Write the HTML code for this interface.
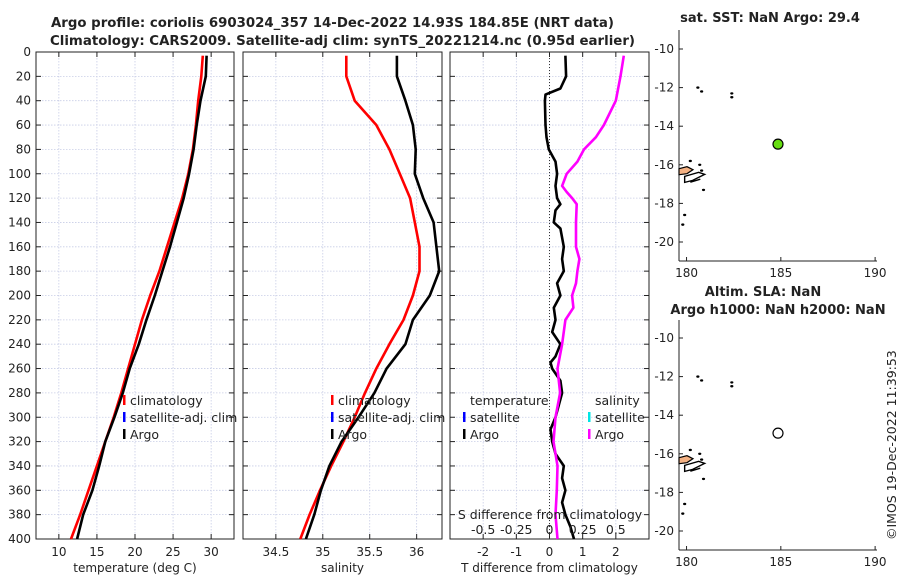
<!DOCTYPE html>
<html><head><meta charset="utf-8"><style>
html,body{margin:0;padding:0;background:#fff;}
svg{display:block;font-family:"DejaVu Sans","Liberation Sans",sans-serif;}
</style></head><body>
<svg id="fig" width="900" height="580" viewBox="0 0 900 580" xmlns="http://www.w3.org/2000/svg"></svg>
<script>
// ---- data ----
const depths = [3,20,40,60,80,100,120,140,160,180,200,220,240,260,280,300,320,340,360,380,400];
const tempClim = [28.9,28.7,28.3,28.0,27.6,27.0,26.2,25.2,24.2,23.2,22.0,20.9,20.0,19.1,18.2,17.2,16.1,15.0,13.9,12.8,11.6];
const tempArgo = [29.4,29.3,28.6,28.1,27.7,27.1,26.4,25.5,24.6,23.6,22.6,21.5,20.5,19.3,18.4,17.3,16.1,15.3,14.4,13.2,12.4];
const salClim = [35.25,35.25,35.34,35.57,35.71,35.82,35.93,35.98,36.03,36.03,35.96,35.86,35.71,35.57,35.45,35.34,35.22,35.09,34.97,34.86,34.76];
const salArgo = [35.79,35.79,35.88,35.96,35.99,35.98,36.07,36.18,36.21,36.24,36.14,35.96,35.88,35.68,35.55,35.38,35.2,35.07,34.98,34.91,34.82];
const diffDepths = [3,20,30,35,40,60,70,80,90,100,110,120,125,130,140,145,160,170,180,190,200,210,220,230,240,250,255,260,270,280,290,300,310,320,330,340,350,360,370,380,390,400];
const tDiff = [0.48,0.5,0.33,-0.12,-0.14,-0.12,-0.09,-0.02,0.18,0.23,0.18,0.23,0.33,0.18,0.13,0.33,0.43,0.38,0.43,0.23,0.33,0.13,0.18,0.08,0.33,0.18,0.03,0.08,0.33,0.38,0.28,0.18,0.03,0.08,0.18,0.43,0.38,0.48,0.38,0.48,0.63,0.74];
const sDiffDepths = [3,20,40,60,70,80,90,100,110,115,120,125,140,160,170,180,190,200,210,220,240,260,280,300,320,340,360,380,400];
const sDiff = [0.56,0.535,0.5,0.41,0.35,0.26,0.21,0.13,0.095,0.13,0.17,0.205,0.2,0.2,0.225,0.21,0.2,0.17,0.18,0.12,0.095,0.06,0.08,0.045,0.03,0.06,0.055,0.045,0.06];
const depthTicks = [0,20,40,60,80,100,120,140,160,180,200,220,240,260,280,300,320,340,360,380,400];
const tempTicks = [10,15,20,25,30];
const salTicks = [34.5,35,35.5,36];
const tdTicks = [-2,-1,0,1,2];
const sdTicks = [-0.5,-0.25,0,0.25,0.5];
const sdTickLabels = ["-0.5","-0.25","0","0.25","0.5"];
const lonTicks = [180,185,190];
const latTicks = [-10,-12,-14,-16,-18,-20];
const floatLon = [184.85];
const floatLat = [-14.93];

const NS="http://www.w3.org/2000/svg";
const svg=document.getElementById('fig');
function el(tag,attrs,parent){const e=document.createElementNS(NS,tag);for(const k in attrs)e.setAttribute(k,attrs[k]);(parent||svg).appendChild(e);return e;}
function txt(s,x,y,attrs,parent){const t=el('text',Object.assign({x:x,y:y,'font-size':12,fill:'#222'},attrs||{}),parent);t.textContent=s;return t;}

const Y0=52,Y1=539;
const yD=d=>Y0+(d/400)*(Y1-Y0);

function panel(name,x0,x1,xmin,xmax,ticks,labels,xlabel,showY){
  const g=el('g',{});
  
  
  const sx=v=>x0+(v-xmin)/(xmax-xmin)*(x1-x0);
  // grid
  depthTicks.forEach(d=>{ if(d>0&&d<400) el('line',{x1:x0,x2:x1,y1:yD(d),y2:yD(d),stroke:'#c8cde6','stroke-width':0.8,'stroke-dasharray':'1.5,1.5'},g);});
  ticks.forEach(v=>{el('line',{x1:sx(v),x2:sx(v),y1:Y0,y2:Y1,stroke:'#c8cde6','stroke-width':0.8,'stroke-dasharray':'1.5,1.5'},g);});
  // ticks
  depthTicks.forEach(d=>{el('line',{x1:x0,x2:x0+5,y1:yD(d),y2:yD(d),stroke:'#222'},g);el('line',{x1:x1-5,x2:x1,y1:yD(d),y2:yD(d),stroke:'#222'},g);
    if(showY){const t=txt(String(d),x0-5,yD(d)+4,{'text-anchor':'end'},g);}});
  ticks.forEach((v,i)=>{el('line',{x1:sx(v),x2:sx(v),y1:Y1,y2:Y1-5,stroke:'#222'},g);el('line',{x1:sx(v),x2:sx(v),y1:Y0,y2:Y0+5,stroke:'#222'},g);
    const t=txt(labels[i],sx(v),Y1+17,{'text-anchor':'middle'},g);});
  el('rect',{x:x0,y:Y0,width:x1-x0,height:Y1-Y0,fill:'none',stroke:'#222','stroke-width':1},g);
  const xl=txt(xlabel,(x0+x1)/2,Y1+33,{'text-anchor':'middle'},g);
  
  return {g,sx};
}
function line(g,sx,xs,ds,color,name){
  const p=el('polyline',{points:xs.map((v,i)=>sx(v).toFixed(1)+','+yD(ds[i]).toFixed(1)).join(' '),fill:'none',stroke:color,'stroke-width':2.6,'stroke-linejoin':'round'},g);
  
  
}
function legendEntry(g,x,y,color,label){
  el('rect',{x:x,y:y-10,width:2.5,height:10,fill:color},g);
  const t=txt(label,x+7,y,{'font-size':12.5},g);
  
  
}

// Temperature panel
const p1=panel('temperature-panel',36,234,7,33,tempTicks,tempTicks.map(String),'temperature (deg C)',true);
line(p1.g,p1.sx,tempClim,depths,'#ff0000','temperature-climatology-line');
line(p1.g,p1.sx,tempArgo,depths,'#000000','temperature-argo-line');
legendEntry(p1.g,123,405,'#ff0000','climatology');
legendEntry(p1.g,123,422,'#0000ff','satellite-adj. clim');
legendEntry(p1.g,123,439,'#000000','Argo');

// Salinity panel
const p2=panel('salinity-panel',243,442,34.15,36.27,salTicks,salTicks.map(String),'salinity',false);
line(p2.g,p2.sx,salClim,depths,'#ff0000','salinity-climatology-line');
line(p2.g,p2.sx,salArgo,depths,'#000000','salinity-argo-line');
legendEntry(p2.g,331,405,'#ff0000','climatology');
legendEntry(p2.g,331,422,'#0000ff','satellite-adj. clim');
legendEntry(p2.g,331,439,'#000000','Argo');

// Difference panel
const p3=panel('difference-panel',450,649,-3,3,tdTicks,tdTicks.map(String),'T difference from climatology',false);
el('line',{x1:p3.sx(0),x2:p3.sx(0),y1:Y0,y2:Y1,stroke:'#333','stroke-width':1,'stroke-dasharray':'1,2'},p3.g);
const sxS=v=>p3.sx(v*4);
line(p3.g,p3.sx,tDiff,diffDepths,'#000000','temperature-difference-line');
line(p3.g,sxS,sDiff,sDiffDepths,'#ff00ff','salinity-difference-line');
txt('temperature',470,405,{'font-size':12.5},p3.g);
txt('salinity',595,405,{'font-size':12.5},p3.g);
legendEntry(p3.g,463,422,'#0000ff','satellite');
legendEntry(p3.g,463,439,'#000000','Argo');
legendEntry(p3.g,588,422,'#00e5e5','satellite');
legendEntry(p3.g,588,439,'#ff00ff','Argo');
const sdl=txt('S difference from climatology',550,519,{'text-anchor':'middle','font-size':12.5},p3.g);

sdTicks.forEach((v,i)=>{const t=txt(sdTickLabels[i],sxS(v),534,{'text-anchor':'middle','font-size':12.5},p3.g);});

// Titles
const t1=txt('Argo profile: coriolis 6903024_357 14-Dec-2022 14.93S 184.85E (NRT data)',51,27,{'font-weight':'bold','font-size':13,textLength:563,lengthAdjust:'spacingAndGlyphs'});

const t2=txt('Climatology: CARS2009. Satellite-adj clim: synTS_20221214.nc (0.95d earlier)',50,45,{'font-weight':'bold','font-size':13,textLength:585,lengthAdjust:'spacingAndGlyphs'});


// Maps
function map(name,top,bottom,yTop,titleLines,filled){
  const g=el('g',{});
  
  
  const X0=679,X1=877;
  const sx=v=>X0+(v-179.6)/(190.1-179.6)*(X1-X0);
  const sy=v=>yTop+(-10-v)/10*(bottom-19-yTop);
  el('line',{x1:X0,x2:X0,y1:top,y2:bottom,stroke:'#222'},g);
  el('line',{x1:X0,x2:X1,y1:bottom,y2:bottom,stroke:'#222'},g);
  lonTicks.forEach(v=>{el('line',{x1:sx(v),x2:sx(v),y1:bottom,y2:bottom-4,stroke:'#222'},g);
    const t=txt(String(v),sx(v),bottom+16,{'text-anchor':'middle'},g);});
  latTicks.forEach(v=>{el('line',{x1:X0,x2:X0+4,y1:sy(v),y2:sy(v),stroke:'#222'},g);
    const t=txt(String(v),X0-5,sy(v)+4,{'text-anchor':'end'},g);});
  // islands
  el('path',{d:`M${sx(179.6)},${sy(-16.2)} l8,-2 l6,3 l-6,4 l-8,1 z`,fill:'#f4b183',stroke:'#000','stroke-width':1.2},g);
  el('path',{d:`M${sx(179.9)},${sy(-16.6)} l14,-4 l6,2 l-12,6 l-8,2 z M${sx(180.2)},${sy(-16.9)} l10,-3`,fill:'none',stroke:'#000','stroke-width':1.4},g);
  [[180.6,-12.0],[180.8,-12.2],[182.4,-12.3],[182.4,-12.5],[180.9,-17.3],[180.2,-15.8],[180.7,-16.0],[180.8,-16.3],[179.9,-18.6],[179.8,-19.1]].forEach(p=>{
    el('ellipse',{cx:sx(p[0]),cy:sy(p[1]),rx:1.6,ry:1.2,fill:'#000'},g);});
  titleLines.forEach((s,i)=>{const t=txt(s[0],s[1],s[2],{'text-anchor':'middle','font-weight':'bold','font-size':13},g);});
  const c=el('circle',{cx:sx(floatLon[0]),cy:sy(floatLat[0]),r:5,fill:filled?'#66dd11':'#fff',stroke:'#000','stroke-width':1.2},g);
  
  
}
map('sst-map',30,261,49,[['sat. SST: NaN Argo: 29.4',770,22]],true);
map('sla-map',320,550,338,[['Altim. SLA: NaN',763,296],['Argo h1000: NaN h2000: NaN',778,314]],false);

const cp=txt('©IMOS 19-Dec-2022 11:39:53',0,0,{'font-size':12.5,transform:'translate(896,540) rotate(-90)'});

</script>
</body></html>
